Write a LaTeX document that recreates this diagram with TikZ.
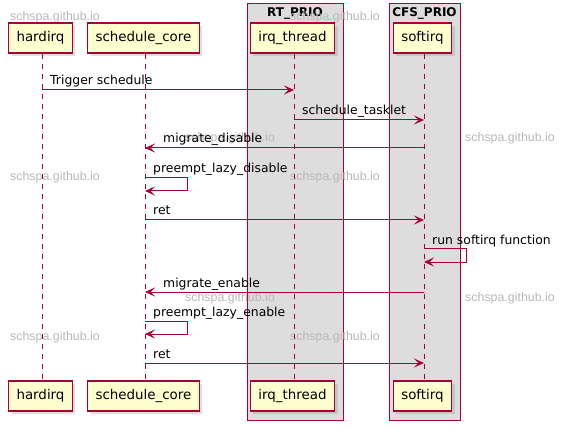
\documentclass[tikz,border=0pt]{standalone}
\usepackage{fontspec}
\setmainfont{DejaVu Sans}
\newfontfamily\markfont{Liberation Sans}
\usetikzlibrary{arrows.meta,shadows}

\definecolor{umlred}{HTML}{A80036}
\definecolor{umlyellow}{HTML}{FEFECE}
\definecolor{umlgray}{HTML}{DDDDDD}
\definecolor{markgray}{HTML}{B8B8B8}

\begin{document}
\begin{tikzpicture}[x=1pt, y=-1pt,
  actor/.style={draw=umlred, line width=1.5pt, fill=umlyellow, minimum height=30pt,
    inner xsep=8pt, inner ysep=0pt, font=\fontsize{13.4}{15}\selectfont,
    drop shadow={shadow xshift=3pt, shadow yshift=-3pt, opacity=0.25}},
  lifeline/.style={draw=umlred, line width=1pt, dash pattern=on 5pt off 5pt},
  msgline/.style={draw=umlred, line width=1pt, -{Stealth[length=10pt,width=9pt,inset=4.5pt]}},
  msglabel/.style={anchor=base west, inner sep=0pt, font=\fontsize{12.4}{14}\selectfont},
  groupbox/.style={draw=umlred, line width=1pt, fill=umlgray},
  grouptitle/.style={inner sep=0pt, font=\bfseries\fontsize{12}{14}\selectfont},
  watermark/.style={anchor=west, inner sep=0pt, text=markgray, font=\markfont\fontsize{12.4}{14}\selectfont}]

%─────────────
% Page size
%─────────────
\useasboundingbox (0,0) rectangle (567,430);

%─────────────────────────────────────────────────────────────
% Priority boxes around the threads
%─────────────────────────────────────────────────────────────
\newcommand{\prioBox}[4]{% name, left, right, title
  \draw[groupbox] (#2,4) rectangle (#3,420);
  \node[grouptitle] (#1) at ({(#2+#3)/2},13) {#4};
}

%─────────────────────────────────────────────────────────────
% Participant: head, foot and dashed lifeline
%─────────────────────────────────────────────────────────────
\newcommand{\participant}[3]{% name, lifeline x, text
  \node[actor] (#1-top) at ({#2-1.5},38) {#3};
  \node[actor] (#1-bot) at ({#2-1.5},396) {#3};
  \coordinate (#1-life) at (#2,0);
  \draw[lifeline] (#1-life |- #1-top.south) -- (#1-life |- #1-bot.north);
}

%─────────────
% Messages
%─────────────
\newcommand{\sendMsg}[4]{% from, to, y, label (left to right)
  \coordinate (#1-#3) at (#1-life |- 0,#3);
  \coordinate (#2-#3) at (#2-life |- 0,#3);
  \draw[msgline] (#1-#3) -- (#2-#3);
  \node[msglabel] (label-#3) at ([xshift=8pt,yshift=5pt]#1-#3) {#4};
}
\newcommand{\backMsg}[4]{% from, to, y, label (right to left)
  \coordinate (#1-#3) at (#1-life |- 0,#3);
  \coordinate (#2-#3) at (#2-life |- 0,#3);
  \draw[msgline] (#1-#3) -- (#2-#3);
  \node[msglabel] (label-#3) at ([xshift=18pt,yshift=5pt]#2-#3) {#4};
}
\newcommand{\selfMsg}[3]{% who, y, label
  \coordinate (#1-#2) at (#1-life |- 0,#2);
  \coordinate (#1-#2-back) at ([yshift=-13pt]#1-#2);
  \draw[msgline] (#1-#2) -- ++(42,0) -- ++(0,13) -- (#1-#2-back);
  \node[msglabel] (label-#2) at ([xshift=8pt,yshift=5pt]#1-#2) {#3};
}

\prioBox{rtprio}{247}{343}{RT\_PRIO}
\prioBox{cfsprio}{389}{460}{CFS\_PRIO}

% watermark text
\foreach \wx/\wy in {10/17, 290/17, 185/138, 465/138, 10/177,
                     290/177, 185/298, 465/298, 10/337, 290/337}
  \node[watermark] at (\wx,\wy) {schspa.github.io};

\participant{hardirq}{42}{hardirq}
\participant{schedcore}{145}{schedule\_core}
\participant{irqthread}{294}{irq\_thread}
\participant{softirq}{424}{softirq}

\sendMsg{hardirq}{irqthread}{90}{Trigger schedule}
\sendMsg{irqthread}{softirq}{120}{schedule\_tasklet}
\backMsg{softirq}{schedcore}{148}{migrate\_disable}
\selfMsg{schedcore}{178}{preempt\_lazy\_disable}
\sendMsg{schedcore}{softirq}{220}{ret}
\selfMsg{softirq}{249}{run softirq function}
\backMsg{softirq}{schedcore}{292}{migrate\_enable}
\selfMsg{schedcore}{321}{preempt\_lazy\_enable}
\sendMsg{schedcore}{softirq}{363}{ret}
\end{tikzpicture}
\end{document}
